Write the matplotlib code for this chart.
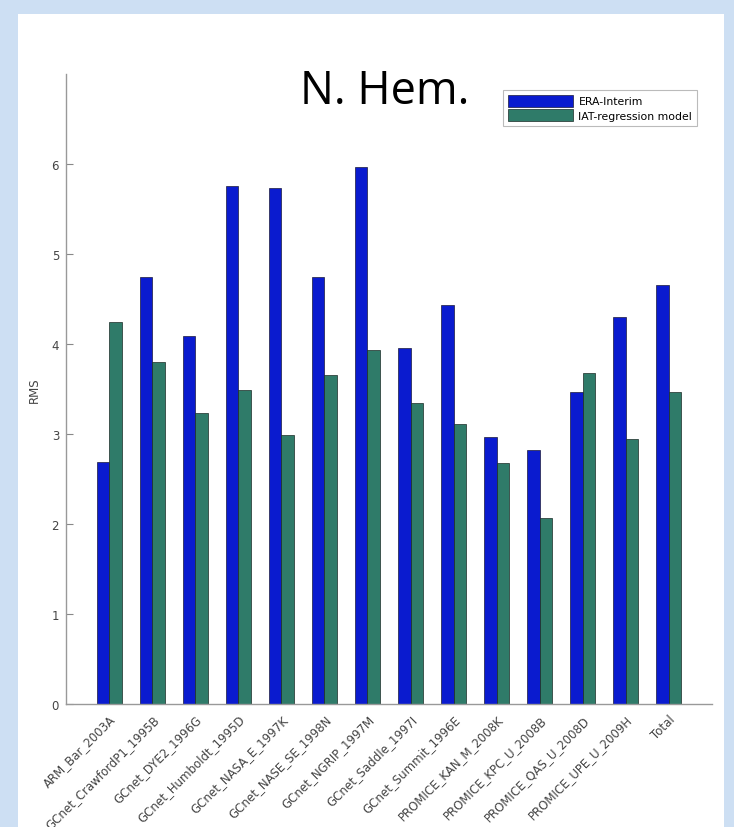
import matplotlib
matplotlib.use("Agg")
import matplotlib.pyplot as plt
import numpy as np
from matplotlib.patches import Rectangle

categories = ["ARM_Bar_2003A", "GCnet_CrawfordP1_1995B", "GCnet_DYE2_1996G",
              "GCnet_Humboldt_1995D", "GCnet_NASA_E_1997K", "GCnet_NASE_SE_1998N",
              "GCnet_NGRIP_1997M", "GCnet_Saddle_1997I", "GCnet_Summit_1996E",
              "PROMICE_KAN_M_2008K", "PROMICE_KPC_U_2008B", "PROMICE_QAS_U_2008D",
              "PROMICE_UPE_U_2009H", "Total"]
era_interim = [2.69, 4.74, 4.09, 5.76, 5.73, 4.74, 5.97, 3.96, 4.43, 2.97, 2.82, 3.47, 4.30, 4.66]
iat_model = [4.24, 3.80, 3.23, 3.49, 2.99, 3.66, 3.93, 3.35, 3.11, 2.68, 2.07, 3.68, 2.95, 3.47]
yticks = [0, 1, 2, 3, 4, 5, 6]

fig = plt.figure(figsize=(7.34, 8.28), dpi=100, facecolor="#cddff3")
fig.patches.append(Rectangle((18/734, 0), (724-18)/734, (828-15)/828,
                             transform=fig.transFigure, facecolor="white",
                             edgecolor="none", zorder=-10))

ax = fig.add_axes([66/734, 123/828, 646/734, 630/828])
ax.set_zorder(1)
ax.set_facecolor("none")
x = np.arange(1, len(categories) + 1)
w = 0.29
ax.bar(x - w/2, era_interim, width=w, color="#0a1bcf", edgecolor="#1a1a3a",
       linewidth=0.5, label="ERA-Interim")
ax.bar(x + w/2, iat_model, width=w, color="#2f7b69", edgecolor="#1a2a25",
       linewidth=0.5, label="IAT-regression model")

ax.set_xlim(0, 15)
ax.set_ylim(0, 7)
ax.set_yticks(yticks)
ax.set_xticks(x)
ax.set_xticklabels(categories, rotation=45, ha="right", rotation_mode="anchor",
                   fontsize=8.5, color="#444444")
ax.tick_params(axis="y", direction="in", length=5, labelsize=8.5,
               labelcolor="#444444", color="#888888", pad=5)
ax.tick_params(axis="x", length=0, pad=6)
for s in ["top", "right"]:
    ax.spines[s].set_visible(False)
for s in ["left", "bottom"]:
    ax.spines[s].set_color("#999999")
    ax.spines[s].set_linewidth(1.0)
ax.set_ylabel("RMS", fontsize=8.5, color="#444444", labelpad=8)

fig.text(385/734, 1 - 104/828, "N. Hem.", fontsize=32.5, family="Open Sans",
         ha="center", va="baseline", color="black", zorder=5)

leg = ax.legend(loc="upper right", bbox_to_anchor=(697/734, 1 - 91/828),
                bbox_transform=fig.transFigure, fontsize=7.8, frameon=True,
                fancybox=False, edgecolor="#aaaaaa", handlelength=6.0,
                handleheight=1.3, borderpad=0.45, labelspacing=0.25,
                handletextpad=0.5, borderaxespad=0)
leg.get_frame().set_linewidth(0.8)

fig.savefig("out.png", dpi=100, facecolor=fig.get_facecolor())
